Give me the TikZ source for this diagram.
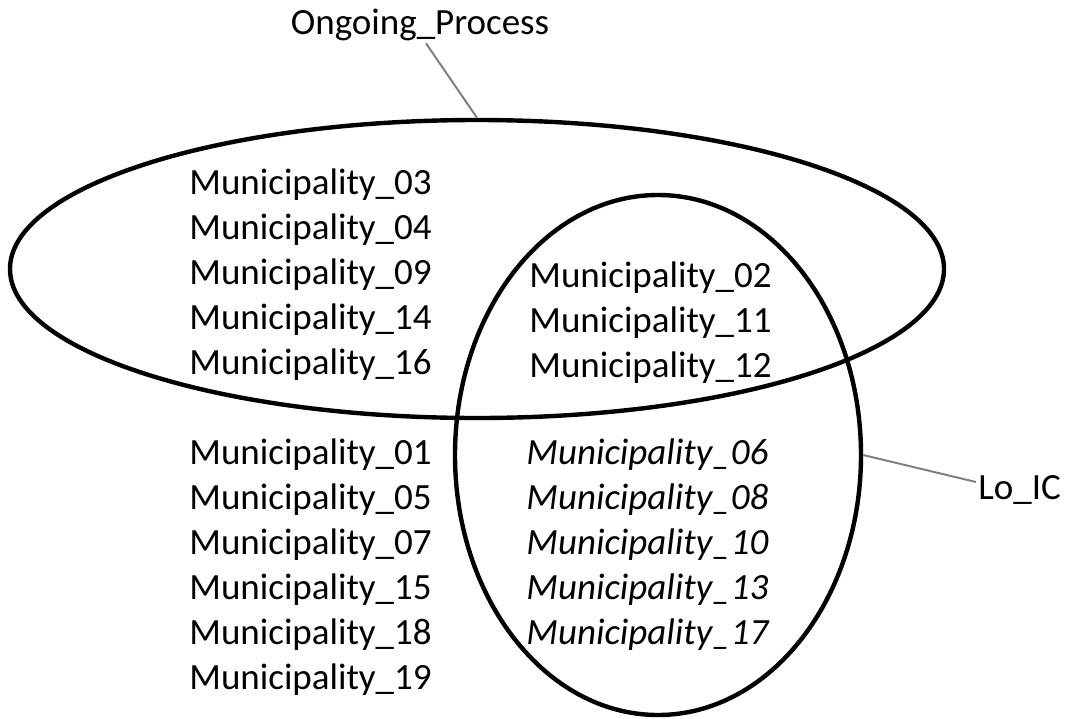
\documentclass[tikz,border=0pt]{standalone}
\usepackage{fontspec}
\setmainfont{Carlito}
\usetikzlibrary{positioning,shapes.geometric}

\begin{document}
\begin{tikzpicture}[
  x=0.5pt, y=-0.5pt,
  font=\fontsize{18.5}{22.5}\selectfont,
  set/.style={draw, ellipse, line width=2.2pt, inner sep=0pt},
  names/.style={align=left, inner sep=0pt, anchor=west},
  lead/.style={draw=black!50, line width=1pt},
  tag/.style={inner sep=1pt}
]
\useasboundingbox (0,0) rectangle (1076,718);

% ── the two sets ────────────────────────────────────────────────────────
\node[set, minimum width=467pt, minimum height=149pt] (ongoing) at (477,269) {};
\node[set, minimum width=203pt, minimum height=260pt] (loic) at (658,455) {};

% ── set labels with leader lines ────────────────────────────────────────
\node[tag] (optag) at (420,25) {Ongoing\_Process};
\node[tag, anchor=west] (lotag) at (976,490) {Lo\_IC};
\draw[lead] ([xshift=3pt]optag.south) -- (ongoing.north);
\draw[lead] ([yshift=4pt]lotag.west) -- (loic.east);

% ── members ─────────────────────────────────────────────────────────────
\node[names] (oponly) at (189,275)
  {Municipality\_03\\Municipality\_04\\Municipality\_09\\Municipality\_14\\Municipality\_16};
\node[names] (both) at (529,323)
  {Municipality\_02\\Municipality\_11\\Municipality\_12};
\node[names] (none) at (189,567)
  {Municipality\_01\\Municipality\_05\\Municipality\_07\\Municipality\_15\\Municipality\_18\\Municipality\_19};
\node[names, font=\fontsize{18.5}{22.5}\selectfont\itshape] (loonly) at (526,545)
  {Municipality\_06\\Municipality\_08\\Municipality\_10\\Municipality\_13\\Municipality\_17};

\end{tikzpicture}
\end{document}
